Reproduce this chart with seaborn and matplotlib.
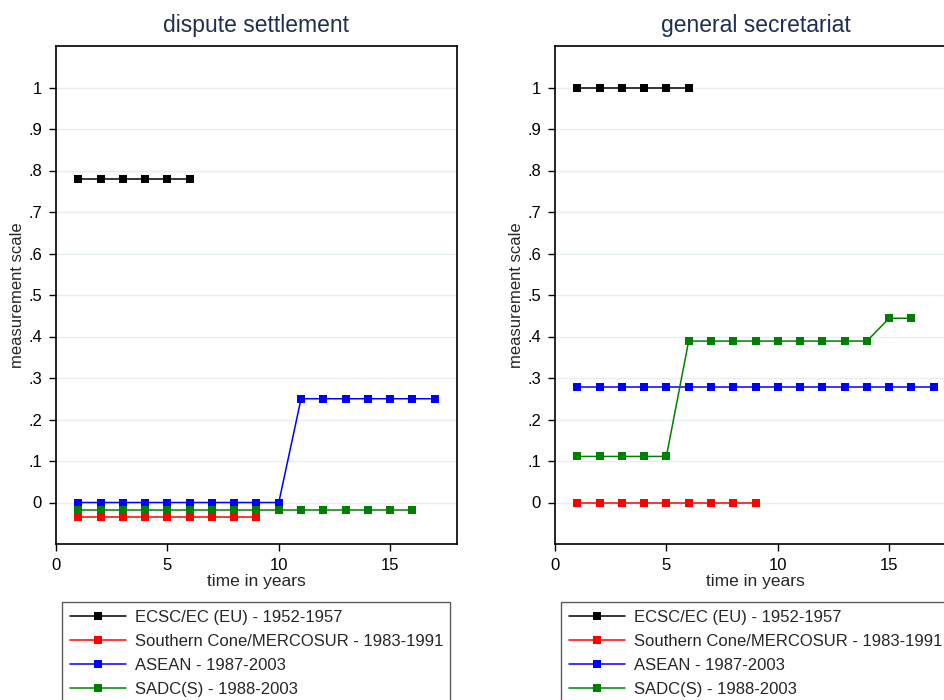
import pandas as pd
import seaborn as sns
from matplotlib import pyplot as plt

# dados
groups = ['ECSC/EC (EU) - 1952-1957', 'Southern Cone/MERCOSUR - 1983-1991',
          'ASEAN - 1987-2003', 'SADC(S) - 1988-2003']
colors = ['black', 'red', 'blue', 'green']

ds_years = [list(range(1, 7)), list(range(1, 10)), list(range(1, 18)), list(range(1, 17))]
ds_ecsc = [0.78] * 6
ds_mercosur = [-0.034] * 9
ds_asean = [0] * 10 + [0.25] * 7
ds_sadc = [-0.017] * 16

gs_years = [list(range(1, 7)), list(range(1, 10)), list(range(1, 18)), list(range(1, 17))]
gs_ecsc = [1.0] * 6
gs_mercosur = [0] * 9
gs_asean = [0.278] * 17
gs_sadc = [0.111] * 5 + [0.389] * 9 + [0.444] * 2

yticks = [0, 0.1, 0.2, 0.3, 0.4, 0.5, 0.6, 0.7, 0.8, 0.9, 1]
ytick_labels = ['0', '.1', '.2', '.3', '.4', '.5', '.6', '.7', '.8', '.9', '1']
xticks = [0, 5, 10, 15]


def monta_df(years, series):
    rows = []
    for g, xs, ys in zip(groups, years, series):
        for x, y in zip(xs, ys):
            rows.append({'t': x, 'v': y, 'grupo': g})
    return pd.DataFrame(rows)


df_ds = monta_df(ds_years, [ds_ecsc, ds_mercosur, ds_asean, ds_sadc])
df_gs = monta_df(gs_years, [gs_ecsc, gs_mercosur, gs_asean, gs_sadc])

sns.set_style('white')
plt.rcParams['font.family'] = ['Liberation Sans', 'DejaVu Sans']

fig = plt.figure(figsize=(9.45, 7), dpi=100)
# eixo da direita passa da borda da figura (como no original, cortado)
ax1 = fig.add_axes([56 / 945, 156 / 700, 401 / 945, 498 / 700])
ax2 = fig.add_axes([555 / 945, 156 / 700, 401 / 945, 498 / 700])

for ax, df, titulo in [(ax1, df_ds, 'dispute settlement'), (ax2, df_gs, 'general secretariat')]:
    sns.lineplot(data=df, x='t', y='v', hue='grupo', hue_order=groups,
                 palette=colors, marker='s', markersize=5.5, markeredgewidth=0,
                 linewidth=1.1, ax=ax, legend=True)
    ax.set_xlim(0, 18)
    ax.set_ylim(-0.1, 1.1)
    ax.set_yticks(yticks)
    ax.set_yticklabels(ytick_labels)
    ax.set_xticks(xticks)
    ax.grid(axis='y', color='#e6eef0', linewidth=1)
    ax.set_axisbelow(True)
    ax.tick_params(axis='both', direction='out', length=5, width=1,
                   colors='black', labelsize=12, left=True, bottom=True, pad=5)
    for s in ax.spines.values():
        s.set_color('black')
        s.set_linewidth(1.2)
    ax.set_title(titulo, fontsize=16.5, color='#1f2f4f', pad=10)
    ax.set_ylabel('measurement scale', fontsize=12)
    ax.yaxis.set_label_coords(-0.078, 0.5)
    ax.set_xlabel('time in years', fontsize=12.5)
    ax.xaxis.set_label_coords(0.5, -0.061)
    leg = ax.legend(loc='upper left', bbox_to_anchor=(0.015, -0.117), frameon=True,
                    fancybox=False, edgecolor='#333333', fontsize=12, handlelength=3.4,
                    handletextpad=0.5, labelspacing=0.55, borderpad=0.45,
                    borderaxespad=0)
    leg.get_frame().set_linewidth(1)

plt.savefig('out.png', dpi=100)
